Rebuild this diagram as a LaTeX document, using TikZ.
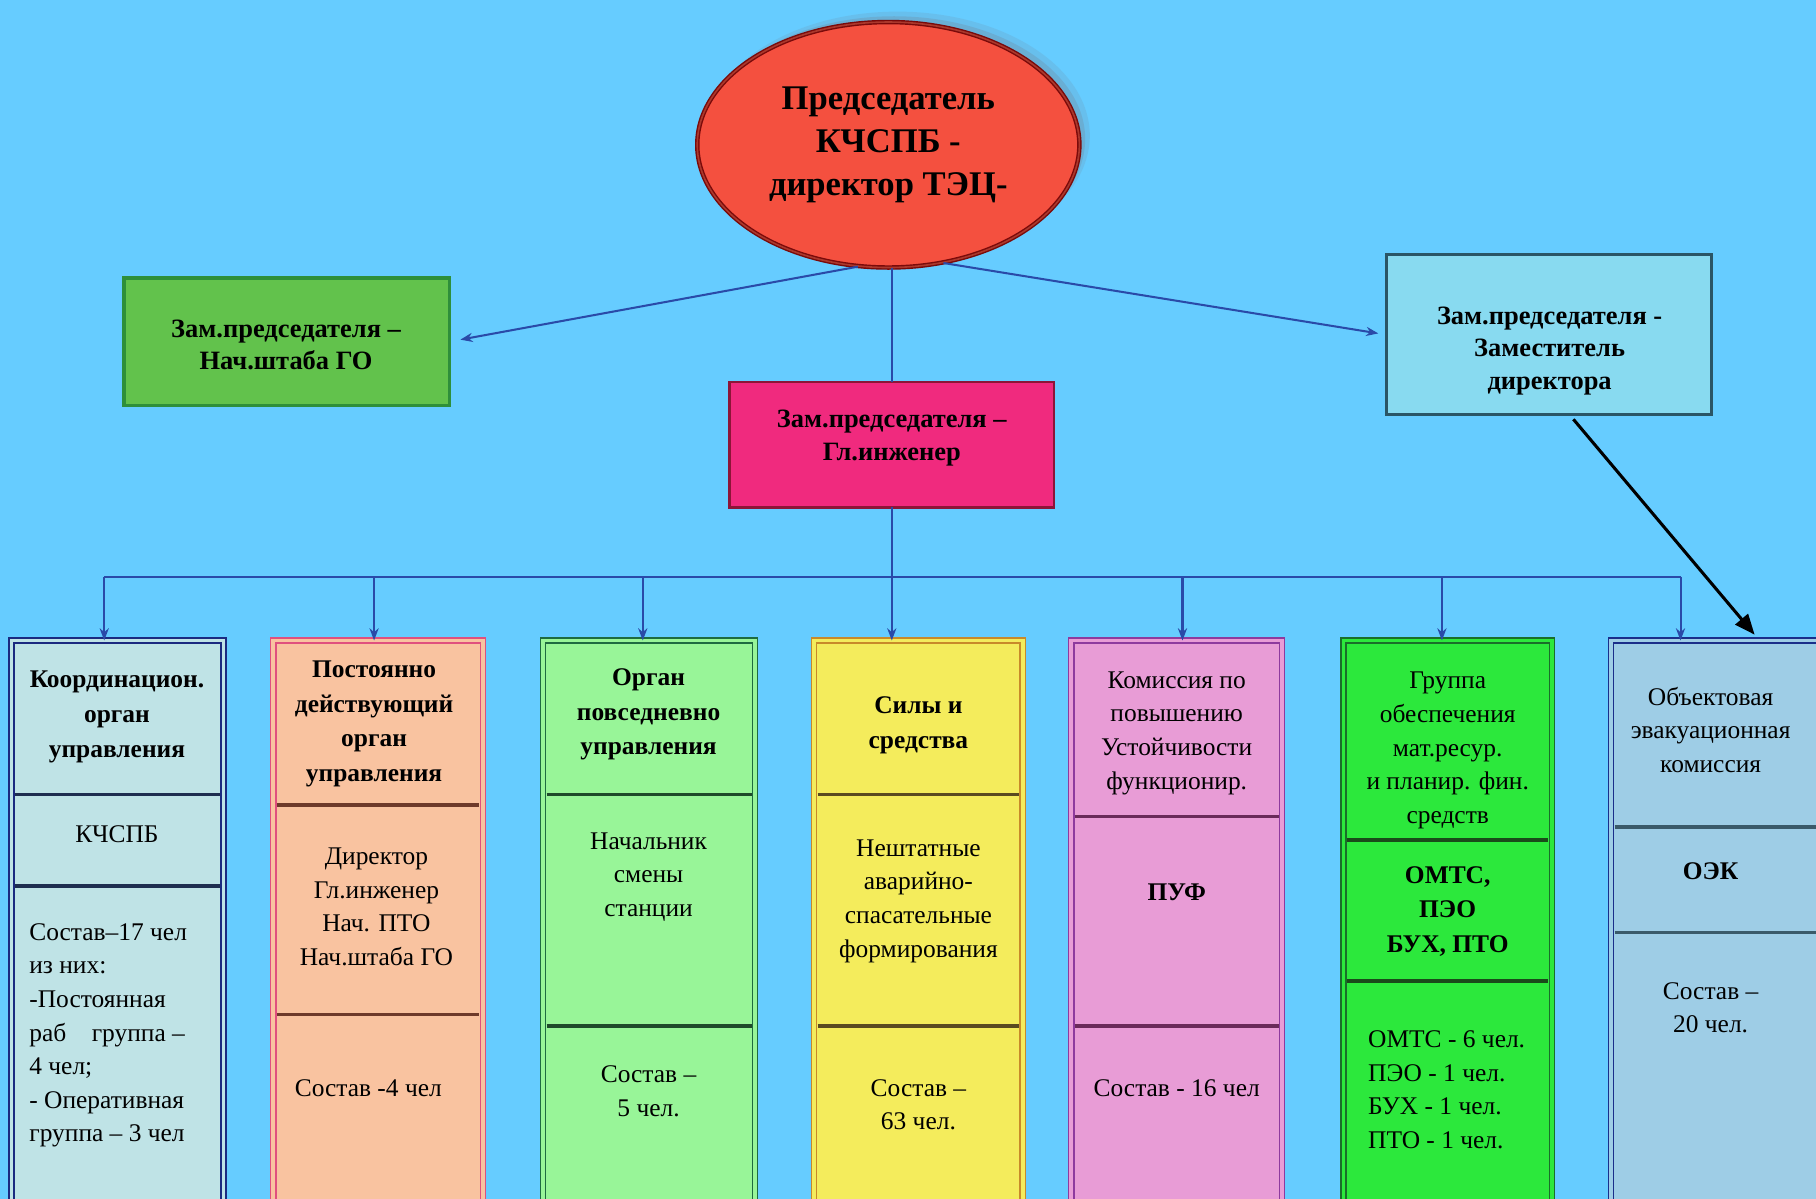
\documentclass[tikz,border=0pt]{standalone}
\usepackage{fontspec}
\setmainfont{Liberation Serif}
\usetikzlibrary{shapes.geometric,arrows.meta,fit,calc}
\definecolor{bg}{HTML}{66CCFF}
\definecolor{ellfill}{HTML}{F4503F}
\definecolor{elldraw}{HTML}{7A0A0A}
\definecolor{shadowc}{HTML}{6F8FA8}
\definecolor{gfill}{HTML}{62C24C}
\definecolor{gdraw}{HTML}{2E8F3A}
\definecolor{pfill}{HTML}{F02A7E}
\definecolor{pdraw}{HTML}{8C1538}
\definecolor{rfill}{HTML}{88DAF0}
\definecolor{rdraw}{HTML}{2A5566}
\definecolor{conn}{HTML}{2A4AA8}
\definecolor{fa}{HTML}{BFE3E6}\definecolor{ba}{HTML}{1B2A80}\definecolor{da}{HTML}{1E2E50}
\definecolor{fb}{HTML}{F9C3A0}\definecolor{bb}{HTML}{E0507E}\definecolor{db}{HTML}{6E3A2A}
\definecolor{fc}{HTML}{98F598}\definecolor{bc}{HTML}{1E6B40}\definecolor{dc}{HTML}{1E4A2A}
\definecolor{fd}{HTML}{F4EC5C}\definecolor{bd}{HTML}{C88A2A}\definecolor{dd}{HTML}{5A4A20}
\definecolor{fe}{HTML}{E89CD6}\definecolor{be}{HTML}{8E3A9E}\definecolor{de}{HTML}{6A2A5A}
\definecolor{ff}{HTML}{2CE83C}\definecolor{bf}{HTML}{1A6E2A}\definecolor{df}{HTML}{1A4A1A}
\definecolor{fg}{HTML}{9ECDE6}\definecolor{bgg}{HTML}{1A2E8A}\definecolor{dg}{HTML}{3A5A6A}
\newcommand\mkcol[8]{%
  \node[colbox, fill=#4, draw=#5, double=#4, fit={(#2,553) (#3,1045)}] (#1) {};
  \draw[divline, draw=#6] (#2+3,#7) -- (#3-3,#7);
  \draw[divline, draw=#6] (#2+3,#8) -- (#3-3,#8);
}
\begin{document}
\begin{tikzpicture}[x=0.02cm, y=-0.02cm,
  colbox/.style={inner sep=0pt, outer sep=0pt, line width=0.7pt, double distance=1.8pt},
  divline/.style={line width=1.8pt},
  topbox/.style={inner sep=0pt, outer sep=0pt, line width=1.6pt},
  hd/.style={align=center, inner sep=0pt, font=\fontsize{12.5}{17}\selectfont\bfseries},
  rg/.style={align=center, inner sep=0pt, font=\fontsize{12.5}{16.5}\selectfont},
  bx/.style={align=center, inner sep=0pt, font=\fontsize{13}{16}\selectfont\bfseries},
  ln/.style={draw=conn, line width=1pt},
  arr/.style={ln, -{Stealth[length=6pt,width=4.5pt]}},
  blk/.style={draw=black, line width=1.5pt, -{Triangle[length=10pt,width=8pt]}},
  ell/.style={ellipse, minimum width=6.6cm, minimum height=4.24cm, inner sep=0pt,
    fill=ellfill, draw=elldraw, line width=0.7pt, double=ellfill!70!black, double distance=0.8pt,
    align=center, font=\fontsize{17}{21}\selectfont\bfseries}
]
\useasboundingbox (0,0) rectangle (1568,1035);
\clip (0,0) rectangle (1568,1035);
\fill[bg] (0,0) rectangle (1568,1035);

% ellipse with soft shadow
\fill[shadowc, opacity=0.2] (775,117) ellipse [x radius=3.32cm, y radius=2.14cm];
\fill[shadowc, opacity=0.35] (772,120) ellipse [x radius=3.3cm, y radius=2.12cm];
\node[ell] (E) at (767,125) {Председатель\\КЧСПБ -\\директор ТЭЦ-};

% top boxes
\node[topbox, fill=gfill, draw=gdraw, fit={(107,240) (388,350)}] (G) {};
\node[bx] (Gt) at (247,298) {Зам.председателя –\\Нач.штаба ГО};
\node[topbox, fill=pfill, draw=pdraw, line width=1.2pt, fit={(630,330) (910,438)}] (P) {};
\node[bx] (Pt) at (770,378) {Зам.председателя –\\Гл.инженер};
\node[topbox, fill=rfill, draw=rdraw, fit={(1197,220) (1478,358)}] (R) {};
\node[bx] (Rt) at (1338,303) {Зам.председателя -\\Заместитель\\директора};

% columns
\mkcol{c1}{10}{193}{fa}{ba}{da}{686}{765}
\mkcol{c2}{236}{417}{fb}{bb}{db}{695}{876}
\mkcol{c3}{469}{652}{fc}{bc}{dc}{686}{886}
\mkcol{c4}{703}{883}{fd}{bd}{dd}{686}{886}
\mkcol{c5}{925}{1107}{fe}{be}{de}{705}{886}
\mkcol{c6}{1160}{1340}{ff}{bf}{df}{725}{847}
\mkcol{c7}{1391}{1575}{fg}{bgg}{dg}{714}{805}

% column texts
\node[hd] (t1h) at (101,619) {Координацион.\\орган\\управления};
\node[rg] (t1a) at (101,720) {КЧСПБ};
\node[rg, align=left, anchor=west] (t1b) at (25,894) {Состав–17 чел\\из них:\\-Постоянная\\раб\quad группа –\\4 чел;\\- Оперативная\\группа – 3 чел};

\node[hd] (t2h) at (323,625) {Постоянно\\действующий\\орган\\управления};
\node[rg] (t2a) at (325,783) {Директор\\Гл.инженер\\Нач. ПТО\\Нач.штаба ГО};
\node[rg] (t2b) at (318,940) {Состав -4 чел};

\node[hd] (t3h) at (560,617) {Орган\\повседневно\\управления};
\node[rg] (t3a) at (560,757) {Начальник\\смены\\станции};
\node[rg] (t3b) at (560,942) {Состав –\\5 чел.};

\node[hd] (t4h) at (793,626) {Силы и\\средства};
\node[rg] (t4a) at (793,778) {Нештатные\\аварийно-\\спасательные\\формирования};
\node[rg] (t4b) at (793,954) {Состав –\\63 чел.};

\node[rg] (t5h) at (1016,633) {Комиссия по\\повышению\\Устойчивости\\функционир.};
\node[hd] (t5a) at (1016,770) {ПУФ};
\node[rg] (t5b) at (1016,940) {Состав - 16 чел};

\node[rg] (t6h) at (1250,648) {Группа\\обеспечения\\мат.ресур.\\и планир. фин.\\средств};
\node[hd] (t6a) at (1250,787) {ОМТС,\\ПЭО\\БУХ, ПТО};
\node[rg, align=left, anchor=west] (t6b) at (1181,941) {ОМТС - 6 чел.\\ПЭО - 1 чел.\\БУХ - 1 чел.\\ПТО - 1 чел.};

\node[rg] (t7h) at (1477,630) {Объектовая\\эвакуационная\\комиссия};
\node[hd] (t7a) at (1477,752) {ОЭК};
\node[rg] (t7b) at (1477,870) {Состав –\\20 чел.};

% connectors
\draw[arr, shorten >=5.5pt] (E.256) -- (G.east);
\draw[arr, shorten >=4pt] (E.295) -- (R.west);
\draw[ln] (P.north |- E.south) -- (P.north);
\draw[arr] (P.south) -- (P.south |- c4.north);
\coordinate (b1) at (90,498);
\coordinate (b2) at (323,498);
\coordinate (b3) at (555,498);
\coordinate (b5) at (1021,498);
\coordinate (b6) at (1245,498);
\coordinate (b7) at (1451,498);
\draw[ln] (b1) -- (b7);
\draw[arr] (b1) -- (b1 |- c1.north);
\draw[arr] (b2) -- (b2 |- c2.north);
\draw[arr] (b3) -- (b3 |- c3.north);
\draw[arr] (b5) -- (b5 |- c5.north);
\draw[arr] (b6) -- (b6 |- c6.north);
\draw[arr] (b7) -- (b7 |- c7.north);
\draw[blk] ($(R.south)+(21,4)$) -- ($(c7.north west)+(124,-5)$);
\end{tikzpicture}
\end{document}
